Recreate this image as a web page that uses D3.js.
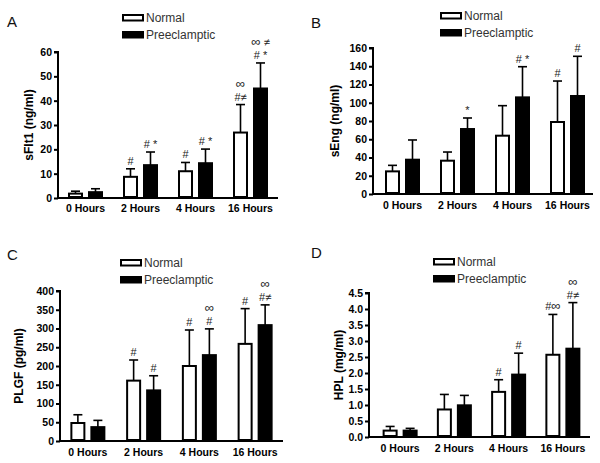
<!DOCTYPE html>
<html><head><meta charset="utf-8">
<script src="https://cdn.jsdelivr.net/npm/d3@7"></script>
<style>body{margin:0;background:#fff}svg{display:block}</style>
</head><body>
<svg id="c" width="600" height="463"></svg>
<script>
const categories = ["0 Hours","2 Hours","4 Hours","16 Hours"];
const seriesNames = ["Normal","Preeclamptic"];

const sFlt1Normal = [1.8, 8.7, 11.0, 26.9];
const sFlt1NormalErr = [2.8, 12.0, 14.6, 38.4];
const sFlt1Pre = [2.4, 13.5, 14.3, 45.0];
const sFlt1PreErr = [3.8, 18.9, 20.1, 55.5];
const sFlt1NormalMarks = ["", "#", "#", "∞\n#≠"];
const sFlt1PreMarks = ["", "# *", "# *", "∞ ≠\n# *"];

const sEngNormal = [24.8, 36.5, 63.9, 78.9];
const sEngNormalErr = [31.4, 46.0, 96.8, 123.8];
const sEngPre = [37.6, 71.2, 105.9, 107.4];
const sEngPreErr = [59.2, 83.3, 139.5, 150.9];
const sEngNormalMarks = ["", "", "", "#"];
const sEngPreMarks = ["", "*", "# *", "#"];

const plgfNormal = [48, 161, 200, 259];
const plgfNormalErr = [70, 216, 296, 353];
const plgfPre = [37, 135, 229, 309];
const plgfPreErr = [55, 174, 299, 363];
const plgfNormalMarks = ["", "#", "#", "#"];
const plgfPreMarks = ["", "#", "∞\n#", "∞\n#≠"];

const hplNormal = [0.2, 0.86, 1.41, 2.57];
const hplNormalErr = [0.33, 1.33, 1.79, 3.83];
const hplPre = [0.2, 0.99, 1.95, 2.76];
const hplPreErr = [0.27, 1.30, 2.62, 4.20];
const hplNormalMarks = ["", "", "#", "#∞"];
const hplPreMarks = ["", "", "#", "∞\n#≠"];

const panelLetters = ["A","B","C","D"];
const yTitles = ["sFlt1 (ng/ml)","sEng (ng/ml)","PLGF (pg/ml)","HPL (mg/ml)"];
const yMaxes = [60, 160, 400, 4.5];
const yTickValues = [
  [0,10,20,30,40,50,60],
  [0,20,40,60,80,100,120,140,160],
  [0,50,100,150,200,250,300,350,400],
  [0,0.5,1,1.5,2,2.5,3,3.5,4,4.5]
];
const yTickFormats = ["d","d","d",".1f"];

const panelData = [
  {n:sFlt1Normal, ne:sFlt1NormalErr, p:sFlt1Pre, pe:sFlt1PreErr, nm:sFlt1NormalMarks, pm:sFlt1PreMarks},
  {n:sEngNormal, ne:sEngNormalErr, p:sEngPre, pe:sEngPreErr, nm:sEngNormalMarks, pm:sEngPreMarks},
  {n:plgfNormal, ne:plgfNormalErr, p:plgfPre, pe:plgfPreErr, nm:plgfNormalMarks, pm:plgfPreMarks},
  {n:hplNormal, ne:hplNormalErr, p:hplPre, pe:hplPreErr, nm:hplNormalMarks, pm:hplPreMarks}
];

// layout
const layouts = [
  {ax0:58, ax1:278, b0:58, b1:278, yT:52, y0:198, letter:[7,27], title:[33], xlab:212, legX:122, legY:14},
  {ax0:373, ax1:593, b0:375, b1:595, yT:48, y0:194, letter:[311,28], title:[339], xlab:209, legX:440, legY:12},
  {ax0:60, ax1:283, b0:60, b1:283, yT:291, y0:441, letter:[7,260], title:[23], xlab:456, legX:120, legY:259},
  {ax0:369, ax1:590, b0:373, b1:590, yT:293, y0:437, letter:[311,258], title:[343], xlab:452, legX:433, legY:258}
];

const svg = d3.select("#c");
const FONT = "'Liberation Sans', Arial, sans-serif";
const BW = 15, GAP = 2.5;

panelData.forEach((d, i) => {
  const L = layouts[i];
  const g = svg.append("g");
  const x = d3.scaleBand().domain(categories).range([L.b0, L.b1]);
  const y = d3.scaleLinear().domain([0, yMaxes[i]]).range([L.y0, L.yT]);

  g.append("text").attr("x", L.letter[0]).attr("y", L.letter[1])
    .attr("font-family", FONT).attr("font-size", 15).attr("fill", "#111").text(panelLetters[i]);

  seriesNames.forEach((s, k) => {
    const ly = L.legY + k * 17;
    g.append("rect").attr("x", L.legX + 1).attr("y", ly + 1).attr("width", 20).attr("height", 5.5)
      .attr("fill", k ? "#000" : "#fff").attr("stroke", "#000").attr("stroke-width", 2);
    g.append("text").attr("x", L.legX + 24).attr("y", ly + 8)
      .attr("font-family", FONT).attr("font-size", 12).attr("fill", "#333").text(s);
  });

  const yAxis = d3.axisLeft(y).tickValues(yTickValues[i]).tickSize(4).tickPadding(2)
    .tickFormat(d3.format(yTickFormats[i]));
  const ga = g.append("g").attr("transform", `translate(${L.ax0},0)`).call(yAxis);
  ga.select(".domain").attr("stroke", "#000").attr("stroke-width", 2).attr("d", `M-4,${L.yT}H0V${L.y0}`);
  ga.selectAll(".tick line").attr("stroke", "#000").attr("stroke-width", 2);
  ga.selectAll(".tick text").attr("font-family", FONT).attr("font-size", 10.5)
    .attr("font-weight", "bold").attr("fill", "#000");

  g.append("line").attr("x1", L.ax0 - 1).attr("x2", L.ax1).attr("y1", L.y0).attr("y2", L.y0)
    .attr("stroke", "#000").attr("stroke-width", 2);

  categories.forEach(c => {
    g.append("text").attr("x", x(c) + x.bandwidth() / 2).attr("y", L.xlab)
      .attr("text-anchor", "middle").attr("font-family", FONT).attr("font-size", 10.5)
      .attr("font-weight", "bold").attr("fill", "#000").text(c);
  });

  const ty = (L.yT + L.y0) / 2;
  g.append("text").attr("transform", `translate(${L.title[0]},${ty}) rotate(-90)`)
    .attr("text-anchor", "middle").attr("font-family", FONT).attr("font-size", 12)
    .attr("font-weight", "bold").attr("fill", "#000").text(yTitles[i]);

  const series = [
    {v: d.n, e: d.ne, m: d.nm, fill: "#fff", off: -GAP - BW},
    {v: d.p, e: d.pe, m: d.pm, fill: "#000", off: GAP}
  ];
  series.forEach(s => {
    categories.forEach((c, j) => {
      const cx = x(c) + x.bandwidth() / 2 + s.off;
      const mid = cx + BW / 2;
      g.append("line").attr("x1", mid).attr("x2", mid).attr("y1", y(s.v[j])).attr("y2", y(s.e[j]))
        .attr("stroke", "#000").attr("stroke-width", 1.6);
      g.append("line").attr("x1", mid - 4.5).attr("x2", mid + 4.5).attr("y1", y(s.e[j])).attr("y2", y(s.e[j]))
        .attr("stroke", "#000").attr("stroke-width", 1.6);
      g.append("rect").attr("x", cx + 1).attr("y", y(s.v[j])).attr("width", BW - 2)
        .attr("height", Math.max(0, y(0) - y(s.v[j]) - 1))
        .attr("fill", s.fill).attr("stroke", "#000").attr("stroke-width", 2);
      const lines = s.m[j] ? s.m[j].split("\n").reverse() : [];
      lines.forEach((t, k) => {
        const tx = g.append("text").attr("x", mid).attr("y", y(s.e[j]) - 4 - k * 12.5)
          .attr("text-anchor", "middle").attr("font-family", FONT).attr("font-size", 11)
          .attr("fill", "#222");
        Array.from(t).forEach(ch => {
          tx.append("tspan").attr("font-size", ch === "∞" ? 13 : 11).text(ch);
        });
      });
    });
  });
});
</script>
</body></html>
